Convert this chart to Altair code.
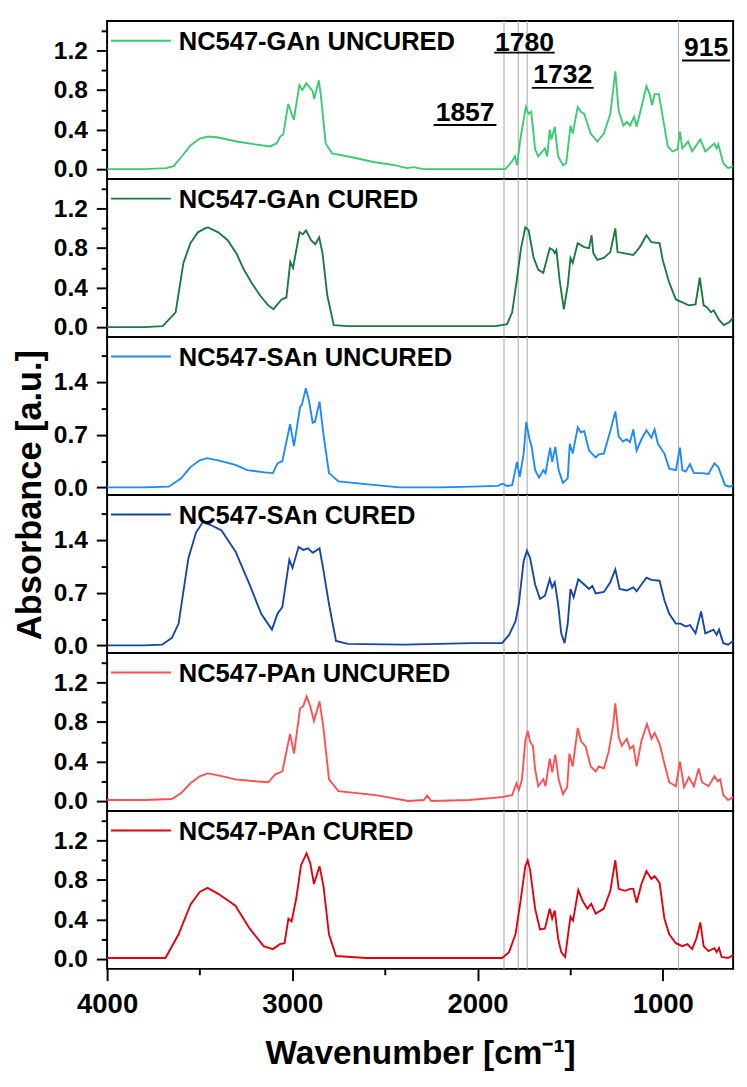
import altair as alt
import pandas as pd

# ---------------- data ----------------
NAMES = ["NC547-GAn UNCURED", "NC547-GAn CURED", "NC547-SAn UNCURED",
         "NC547-SAn CURED", "NC547-PAn UNCURED", "NC547-PAn CURED"]
COLORS = ["#3ACB70", "#1B7A40", "#1E88FF", "#1546A6", "#FF4F4F", "#E3000B"]

WN1 = [4000, 3800, 3680, 3641, 3600, 3550, 3500, 3455, 3400, 3300, 3200, 3122, 3085, 3065, 3049, 3022, 2992, 2962,
       2946, 2925, 2890, 2882, 2857, 2846, 2820, 2785, 2678, 2555, 2450, 2380, 2343, 2320, 2290, 2100, 1900, 1850,
       1813, 1798, 1786, 1769, 1739, 1724, 1710, 1689, 1672, 1636, 1624, 1610, 1601, 1583, 1565, 1539, 1521, 1498,
       1486, 1459, 1442, 1424, 1389, 1353, 1318, 1283, 1256, 1238, 1212, 1194, 1177, 1155, 1141, 1115, 1088, 1071,
       1057, 1044, 1021, 1000, 973, 947, 920, 907, 894, 876, 863, 841, 797, 770, 721, 709, 700, 673, 647, 620]
AB1 = [0.0, 0.0, 0.01, 0.03, 0.12, 0.24, 0.31, 0.33, 0.32, 0.28, 0.25, 0.23, 0.26, 0.33, 0.35, 0.66, 0.50, 0.85,
       0.80, 0.87, 0.79, 0.71, 0.90, 0.75, 0.26, 0.16, 0.12, 0.07, 0.04, 0.01, 0.02, 0.01, 0.0, 0.0, 0.0, 0.0,
       0.08, 0.13, 0.04, 0.30, 0.63, 0.56, 0.58, 0.20, 0.13, 0.21, 0.13, 0.40, 0.30, 0.43, 0.13, 0.04, 0.06, 0.44,
       0.36, 0.63, 0.58, 0.56, 0.36, 0.28, 0.36, 0.56, 0.99, 0.59, 0.44, 0.48, 0.44, 0.53, 0.43, 0.63, 0.84, 0.76,
       0.65, 0.76, 0.76, 0.53, 0.23, 0.18, 0.20, 0.38, 0.21, 0.25, 0.28, 0.18, 0.30, 0.18, 0.26, 0.21, 0.25, 0.06,
       0.01, 0.03]

WN2 = [4000, 3800, 3700, 3630, 3588, 3550, 3510, 3472, 3455, 3400, 3349, 3300, 3261, 3220, 3174, 3130, 3102, 3085,
       3058, 3032, 3011, 2996, 2961, 2943, 2926, 2899, 2876, 2855, 2837, 2811, 2776, 2700, 2500, 2200, 1900, 1840,
       1813, 1790, 1765, 1742, 1724, 1698, 1672, 1645, 1610, 1592, 1583, 1574, 1557, 1534, 1513, 1498, 1486, 1459,
       1424, 1398, 1384, 1375, 1353, 1318, 1283, 1256, 1244, 1212, 1159, 1124, 1088, 1061, 1017, 1000, 965, 929,
       894, 859, 823, 800, 779, 760, 740, 725, 710, 695, 670, 640, 620]
AB2 = [0.0, 0.0, 0.01, 0.15, 0.65, 0.85, 0.96, 1.0, 1.01, 0.96, 0.88, 0.74, 0.58, 0.45, 0.32, 0.22, 0.18, 0.22,
       0.28, 0.30, 0.66, 0.60, 0.96, 0.94, 0.98, 0.88, 0.84, 0.91, 0.75, 0.32, 0.02, 0.01, 0.01, 0.01, 0.01, 0.03,
       0.15, 0.45, 0.80, 1.01, 0.98, 0.71, 0.58, 0.55, 0.80, 0.78, 0.75, 0.78, 0.48, 0.18, 0.42, 0.70, 0.65, 0.85,
       0.81, 0.80, 0.93, 0.75, 0.68, 0.70, 0.76, 1.00, 0.76, 0.75, 0.73, 0.81, 0.93, 0.86, 0.85, 0.68, 0.45, 0.28,
       0.25, 0.22, 0.23, 0.50, 0.22, 0.20, 0.15, 0.17, 0.12, 0.07, 0.02, 0.05, 0.10]

WN3 = [4000, 3800, 3667, 3600, 3550, 3500, 3460, 3400, 3307, 3243, 3150, 3105, 3080, 3054, 3012, 2991, 2958, 2948,
       2927, 2909, 2890, 2878, 2853, 2832, 2802, 2751, 2549, 2423, 2200, 2027, 1890, 1867, 1840, 1813, 1787, 1772,
       1751, 1737, 1721, 1707, 1689, 1668, 1645, 1633, 1608, 1597, 1580, 1562, 1539, 1513, 1502, 1486, 1459, 1442,
       1424, 1398, 1362, 1345, 1318, 1283, 1256, 1238, 1215, 1194, 1177, 1159, 1141, 1115, 1088, 1061, 1044, 1026,
       991, 965, 929, 907, 894, 876, 853, 832, 788, 753, 721, 700, 688, 664, 638, 620]
AB3 = [0.0, 0.0, 0.01, 0.12, 0.27, 0.36, 0.39, 0.36, 0.30, 0.23, 0.20, 0.19, 0.32, 0.35, 0.84, 0.55, 1.07, 1.10,
       1.32, 1.14, 0.86, 0.87, 1.14, 0.71, 0.19, 0.08, 0.03, 0.0, 0.0, 0.01, 0.02, 0.05, 0.02, 0.03, 0.34, 0.14,
       0.45, 0.87, 0.66, 0.53, 0.23, 0.13, 0.23, 0.19, 0.53, 0.34, 0.54, 0.23, 0.06, 0.12, 0.58, 0.45, 0.80, 0.73,
       0.75, 0.49, 0.40, 0.44, 0.45, 0.75, 1.01, 0.68, 0.61, 0.64, 0.60, 0.77, 0.49, 0.64, 0.76, 0.66, 0.77, 0.58,
       0.45, 0.25, 0.23, 0.53, 0.23, 0.21, 0.31, 0.19, 0.19, 0.18, 0.32, 0.27, 0.19, 0.03, 0.01, 0.03]

WN4 = [4000, 3800, 3703, 3650, 3614, 3561, 3520, 3483, 3440, 3383, 3307, 3231, 3168, 3110, 3080, 3054, 3016, 2999,
       2966, 2941, 2915, 2890, 2853, 2832, 2802, 2764, 2700, 2400, 2027, 1867, 1830, 1795, 1777, 1751, 1733, 1716,
       1689, 1663, 1636, 1610, 1597, 1583, 1565, 1548, 1530, 1513, 1498, 1481, 1456, 1424, 1398, 1380, 1362, 1318,
       1283, 1256, 1233, 1194, 1159, 1141, 1115, 1088, 1061, 1017, 991, 965, 929, 903, 876, 853, 823, 793, 770,
       726, 709, 696, 673, 647, 620]
AB4 = [0.0, 0.0, 0.01, 0.10, 0.29, 1.16, 1.50, 1.64, 1.60, 1.53, 1.25, 0.81, 0.42, 0.21, 0.42, 0.51, 1.14, 1.03,
       1.31, 1.27, 1.29, 1.23, 1.29, 1.00, 0.55, 0.06, 0.02, 0.01, 0.03, 0.03, 0.14, 0.32, 0.55, 1.12, 1.26, 1.16,
       0.81, 0.62, 0.66, 0.88, 0.77, 0.84, 0.55, 0.16, 0.03, 0.29, 0.75, 0.64, 0.88, 0.81, 0.75, 0.79, 0.69, 0.71,
       0.84, 1.01, 0.75, 0.73, 0.77, 0.72, 0.81, 0.90, 0.87, 0.86, 0.60, 0.42, 0.29, 0.29, 0.25, 0.27, 0.16, 0.45,
       0.16, 0.21, 0.14, 0.21, 0.03, 0.01, 0.06]

WN5 = [4000, 3800, 3650, 3600, 3550, 3500, 3458, 3400, 3307, 3200, 3130, 3092, 3054, 3012, 2991, 2958, 2941, 2923,
       2903, 2883, 2853, 2832, 2802, 2751, 2549, 2373, 2290, 2272, 2250, 2046, 1867, 1813, 1790, 1777, 1760, 1742,
       1729, 1716, 1701, 1689, 1672, 1645, 1633, 1610, 1597, 1580, 1562, 1539, 1516, 1504, 1486, 1459, 1442, 1416,
       1389, 1362, 1345, 1318, 1292, 1269, 1256, 1238, 1221, 1194, 1177, 1159, 1141, 1115, 1085, 1061, 1044, 1017,
       991, 965, 929, 907, 885, 859, 832, 806, 788, 753, 721, 703, 690, 673, 647, 620]
AB5 = [0.01, 0.01, 0.02, 0.08, 0.18, 0.25, 0.28, 0.26, 0.22, 0.20, 0.19, 0.27, 0.30, 0.68, 0.48, 0.94, 0.96, 1.06,
       0.96, 0.81, 1.01, 0.74, 0.22, 0.10, 0.06, 0.0, 0.01, 0.055, 0.0, 0.01, 0.04, 0.06, 0.18, 0.11, 0.22, 0.61,
       0.71, 0.60, 0.56, 0.32, 0.15, 0.22, 0.15, 0.43, 0.29, 0.47, 0.22, 0.07, 0.14, 0.48, 0.35, 0.74, 0.61, 0.55,
       0.35, 0.30, 0.35, 0.33, 0.50, 0.75, 0.99, 0.65, 0.56, 0.63, 0.53, 0.56, 0.35, 0.61, 0.78, 0.63, 0.69, 0.58,
       0.38, 0.19, 0.15, 0.40, 0.14, 0.24, 0.15, 0.33, 0.19, 0.15, 0.25, 0.20, 0.22, 0.06, 0.01, 0.04]

WN6 = [4000, 3800, 3685, 3614, 3550, 3500, 3458, 3400, 3307, 3231, 3155, 3105, 3067, 3042, 3021, 3004, 2979, 2953,
       2923, 2903, 2883, 2853, 2832, 2802, 2764, 2600, 2027, 1867, 1830, 1795, 1769, 1742, 1729, 1716, 1689, 1663,
       1636, 1610, 1597, 1583, 1565, 1548, 1527, 1509, 1498, 1484, 1456, 1433, 1407, 1386, 1362, 1318, 1283, 1256,
       1238, 1203, 1177, 1159, 1141, 1115, 1088, 1061, 1044, 1017, 991, 965, 929, 894, 867, 841, 818, 797, 779,
       753, 721, 709, 696, 682, 647, 620]
AB6 = [0.01, 0.01, 0.01, 0.25, 0.55, 0.68, 0.72, 0.66, 0.54, 0.31, 0.13, 0.10, 0.15, 0.16, 0.41, 0.38, 0.61, 0.95,
       1.07, 0.97, 0.76, 0.94, 0.74, 0.25, 0.03, 0.01, 0.01, 0.01, 0.07, 0.25, 0.57, 0.94, 1.00, 0.90, 0.51, 0.30,
       0.31, 0.51, 0.41, 0.49, 0.21, 0.07, 0.02, 0.28, 0.43, 0.39, 0.70, 0.59, 0.51, 0.56, 0.46, 0.51, 0.69, 1.00,
       0.71, 0.69, 0.71, 0.71, 0.57, 0.76, 0.89, 0.81, 0.84, 0.77, 0.41, 0.25, 0.16, 0.13, 0.15, 0.10, 0.21, 0.37,
       0.13, 0.08, 0.11, 0.07, 0.11, 0.02, 0.01, 0.04]

WNS = [WN1, WN2, WN3, WN4, WN5, WN6]
ABS = [AB1, AB2, AB3, AB4, AB5, AB6]

MARKER_WN = [1857, 1780, 1732, 915]
ANN_TEXT = ["1857", "1780", "1732", "915"]
ANN_WN = [2067, 1746, 1540, 766]
ANN_AB = [0.486, 1.20, 0.873, 1.15]
UL_WN1 = [2237, 1910, 1707, 896]
UL_WN2 = [1898, 1583, 1373, 636]
UL_AB = [0.446, 1.18, 0.823, 1.10]

Y_TICKS_A = [0, 0.2, 0.4, 0.6, 0.8, 1.0, 1.2, 1.4]
Y_TICKS_B = [0, 0.35, 0.7, 1.05, 1.4, 1.75]
X_TICKS = [4000, 3500, 3000, 2500, 2000, 1500, 1000]

# ---------------- layout / style ----------------
W, H = 638, 161
XDOM = [4000, 620]
FONT = "Liberation Sans"

xs = alt.Scale(domain=XDOM, nice=False, zero=False)

x_axis_bottom = alt.Axis(
    values=X_TICKS, format="d",
    labelExpr="datum.value % 1000 == 0 ? datum.label : ''",
    tickSize={"condition": {"test": "datum.value % 1000 == 0", "value": 12}, "value": 6},
    tickWidth=2, tickColor="black", domain=False, grid=False,
    labelFont=FONT, labelFontSize=28, labelFontWeight="bold", labelColor="black",
    labelPadding=10, labelFlush=False, labelOverlap=False,
    title="Wavenumber [cm⁻¹]", titleFont=FONT, titleFontSize=34, titleFontWeight="bold",
    titleColor="black", titleY=96, titleBaseline="alphabetic",
)


def y_axis(kind):
    if kind == "A":
        vals = Y_TICKS_A
        test = "abs(round(datum.value*10)) % 4 == 0"
    else:
        vals = Y_TICKS_B
        test = "abs(round(datum.value*100)) % 70 == 0"
    return alt.Axis(
        values=vals, title=None,
        labelExpr=f"{test} ? format(datum.value, '.1f') : ''",
        tickSize={"condition": {"test": test, "value": 11}, "value": 6},
        tickWidth=2, tickColor="black", domain=False, grid=False,
        labelFont=FONT, labelFontSize=25, labelFontWeight="bold", labelColor="black",
        labelPadding=9, labelFlush=False, labelOverlap=False,
    )


panels = []
for i in range(6):
    kind = "B" if i in (2, 3) else "A"
    ydom = [-0.1, 2.0] if kind == "B" else [-0.1, 1.5]
    ys = alt.Scale(domain=ydom, nice=False, zero=False)
    xax = x_axis_bottom if i == 5 else None
    yax = y_axis(kind)
    X = alt.X("wn:Q", scale=xs, axis=xax)
    Y = alt.Y("ab:Q", scale=ys, axis=yax)

    df = pd.DataFrame({"wn": WNS[i], "ab": ABS[i]})
    vlines = alt.Chart(pd.DataFrame({"wn": MARKER_WN})).mark_rule(
        color="#b3b3b3", strokeWidth=1.2).encode(x=X)
    line = alt.Chart(df).mark_line(color=COLORS[i], strokeWidth=1.9).encode(x=X, y=Y)
    name_df = pd.DataFrame({"name": [NAMES[i]]})
    leg_line = alt.Chart(name_df).mark_rule(color=COLORS[i], strokeWidth=2).encode(
        x=alt.value(4), x2=alt.value(65), y=alt.value(20))
    leg_text = alt.Chart(name_df).mark_text(
        align="left", baseline="alphabetic", font=FONT, fontSize=26, fontWeight="bold",
        color="black").encode(x=alt.value(73), y=alt.value(30), text="name:N")
    layers = [vlines, line, leg_line, leg_text]

    if i == 0:
        ann = pd.DataFrame({"t": ANN_TEXT, "wn": ANN_WN, "ab": ANN_AB})
        ul = pd.DataFrame({"wn": UL_WN1, "wn2": UL_WN2, "ab": UL_AB})
        layers.append(alt.Chart(ann).mark_text(
            align="center", baseline="alphabetic", font=FONT, fontSize=27, fontWeight="bold",
            color="black").encode(x=X, y=Y, text="t:N"))
        layers.append(alt.Chart(ul).mark_rule(color="black", strokeWidth=2).encode(
            x=X, x2="wn2:Q", y=Y))
    if i == 2:
        ttl = pd.DataFrame({"t": ["Absorbance [a.u.]"]})
        layers.append(alt.Chart(ttl).mark_text(
            align="center", baseline="alphabetic", angle=270, font=FONT, fontSize=35,
            fontWeight="bold", color="black").encode(
            x=alt.value(-67), y=alt.value(H), text="t:N"))

    panels.append(alt.layer(*layers).properties(width=W, height=H))

chart = alt.vconcat(*panels, spacing=0, bounds="flush").properties(
    padding={"left": 4, "top": 0, "right": 1, "bottom": 0}
).configure_view(stroke="black", strokeWidth=2)

chart.save("out.html", embed_options={"renderer": "svg", "actions": False})
